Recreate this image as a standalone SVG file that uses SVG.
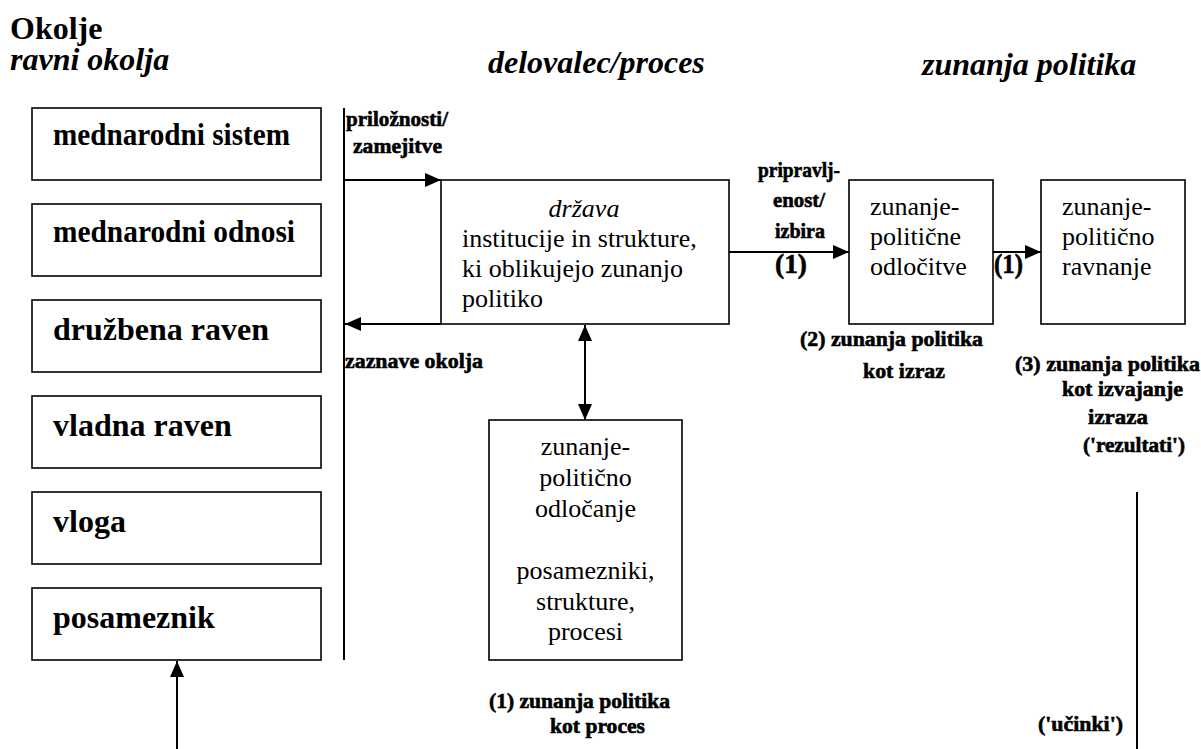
<svg xmlns="http://www.w3.org/2000/svg" xml:lang="sl" width="1201" height="749" viewBox="0 0 1201 749" font-family="Liberation Serif">
  <style>
    .box { fill: #fff; stroke: #000; stroke-width: 1.6; }
    .wire { fill: none; stroke: #000; stroke-width: 2; }
  </style>
  <defs>
    <marker id="arrow" viewBox="0 0 16 14" refX="16" refY="7" markerWidth="16" markerHeight="14" markerUnits="userSpaceOnUse" orient="auto-start-reverse">
      <path d="M0,0 L16,7 L0,14 Z" fill="#000"/>
    </marker>
  </defs>

  <rect width="1201" height="749" fill="#fff"/>

  <!-- column headings -->
  <g id="headings" font-size="32" font-weight="bold" fill="#000">
    <text font-family="Liberation Serif" x="10" y="39">Okolje</text>
    <text font-family="Liberation Serif" font-style="italic" x="10" y="70">ravni okolja</text>
    <text font-family="Liberation Serif" font-style="italic" x="488" y="73">delovalec/proces</text>
    <text font-family="Liberation Serif" font-style="italic" x="922" y="75">zunanja politika</text>
  </g>

  <!-- environment levels -->
  <g id="levels" font-size="32" font-weight="bold" fill="#000">
    <g id="level-mednarodni-sistem">
      <rect class="box" x="32" y="108" width="289" height="72"/>
      <text font-family="Liberation Serif" x="53" y="145" textLength="237" lengthAdjust="spacingAndGlyphs">mednarodni sistem</text>
    </g>
    <g id="level-mednarodni-odnosi">
      <rect class="box" x="32" y="204" width="289" height="72"/>
      <text font-family="Liberation Serif" x="53" y="242" textLength="242" lengthAdjust="spacingAndGlyphs">mednarodni odnosi</text>
    </g>
    <g id="level-druzbena-raven">
      <rect class="box" x="32" y="300" width="289" height="72"/>
      <text font-family="Liberation Serif" x="53" y="340">družbena raven</text>
    </g>
    <g id="level-vladna-raven">
      <rect class="box" x="32" y="396" width="289" height="72"/>
      <text font-family="Liberation Serif" x="53" y="436">vladna raven</text>
    </g>
    <g id="level-vloga">
      <rect class="box" x="32" y="492" width="289" height="72"/>
      <text font-family="Liberation Serif" x="53" y="532">vloga</text>
    </g>
    <g id="level-posameznik">
      <rect class="box" x="32" y="588" width="289" height="72"/>
      <text font-family="Liberation Serif" x="53" y="628">posameznik</text>
    </g>
  </g>

  <!-- actor: the state -->
  <g id="drzava" font-size="26" fill="#000">
    <rect class="box" x="441" y="180" width="288" height="144"/>
    <text font-family="Liberation Serif" x="584" y="217" text-anchor="middle" font-style="italic">država</text>
    <text font-family="Liberation Serif" x="462" y="247">institucije in strukture,</text>
    <text font-family="Liberation Serif" x="462" y="277">ki oblikujejo zunanjo</text>
    <text font-family="Liberation Serif" x="462" y="307">politiko</text>
  </g>

  <!-- decision making -->
  <g id="odlocanje" font-size="26" fill="#000" text-anchor="middle">
    <rect class="box" x="489" y="420" width="193" height="240"/>
    <text font-family="Liberation Serif" x="585.5" y="455">zunanje-</text>
    <text font-family="Liberation Serif" x="585.5" y="486">politično</text>
    <text font-family="Liberation Serif" x="585.5" y="517">odločanje</text>
    <text font-family="Liberation Serif" x="585.5" y="579">posamezniki,</text>
    <text font-family="Liberation Serif" x="585.5" y="610">strukture,</text>
    <text font-family="Liberation Serif" x="585.5" y="640">procesi</text>
  </g>

  <!-- decisions -->
  <g id="odlocitve" font-size="26" fill="#000">
    <rect class="box" x="849" y="180" width="144" height="144"/>
    <text font-family="Liberation Serif" x="870" y="215">zunanje-</text>
    <text font-family="Liberation Serif" x="870" y="245">politične</text>
    <text font-family="Liberation Serif" x="870" y="275">odločitve</text>
  </g>

  <!-- conduct -->
  <g id="ravnanje" font-size="26" fill="#000">
    <rect class="box" x="1041" y="180" width="144" height="144"/>
    <text font-family="Liberation Serif" x="1062" y="215">zunanje-</text>
    <text font-family="Liberation Serif" x="1062" y="245">politično</text>
    <text font-family="Liberation Serif" x="1062" y="275">ravnanje</text>
  </g>

  <!-- connectors -->
  <g id="connectors">
    <line class="wire" x1="344" y1="108" x2="344" y2="660"/>
    <line class="wire" x1="344" y1="180" x2="441" y2="180" marker-end="url(#arrow)"/>
    <line class="wire" x1="441" y1="324" x2="345" y2="324" marker-end="url(#arrow)"/>
    <line class="wire" x1="585" y1="325" x2="585" y2="420" marker-start="url(#arrow)" marker-end="url(#arrow)"/>
    <line class="wire" x1="729" y1="252" x2="849" y2="252" marker-end="url(#arrow)"/>
    <line class="wire" x1="993" y1="252" x2="1041" y2="252" marker-end="url(#arrow)"/>
    <line class="wire" x1="177" y1="749" x2="177" y2="661" marker-end="url(#arrow)"/>
    <line class="wire" x1="1137" y1="492" x2="1137" y2="749"/>
  </g>

  <!-- connector labels -->
  <g id="labels" font-size="22" font-weight="bold" fill="#000" stroke="#000" stroke-width="0.6">
    <text font-family="Liberation Serif" x="346" y="126" textLength="102" lengthAdjust="spacingAndGlyphs">priložnosti/</text>
    <text font-family="Liberation Serif" x="353" y="153" textLength="89" lengthAdjust="spacingAndGlyphs">zamejitve</text>
    <text font-family="Liberation Serif" x="345" y="368" textLength="138" lengthAdjust="spacingAndGlyphs">zaznave okolja</text>
    <text font-family="Liberation Serif" x="758" y="177" textLength="82" lengthAdjust="spacingAndGlyphs">pripravlj-</text>
    <text font-family="Liberation Serif" x="773" y="207" textLength="52" lengthAdjust="spacingAndGlyphs">enost/</text>
    <text font-family="Liberation Serif" x="775" y="238" textLength="50" lengthAdjust="spacingAndGlyphs">izbira</text>
    <text font-family="Liberation Serif" font-size="28" x="775" y="273" textLength="32" lengthAdjust="spacingAndGlyphs">(1)</text>
    <text font-family="Liberation Serif" font-size="28" x="994" y="273" textLength="29" lengthAdjust="spacingAndGlyphs">(1)</text>
    <text font-family="Liberation Serif" x="800" y="346" textLength="183" lengthAdjust="spacingAndGlyphs">(2) zunanja politika</text>
    <text font-family="Liberation Serif" x="863" y="378" textLength="82" lengthAdjust="spacingAndGlyphs">kot izraz</text>
    <text font-family="Liberation Serif" x="1015" y="371" textLength="185" lengthAdjust="spacingAndGlyphs">(3) zunanja politika</text>
    <text font-family="Liberation Serif" x="1062" y="396" textLength="121" lengthAdjust="spacingAndGlyphs">kot izvajanje</text>
    <text font-family="Liberation Serif" x="1088" y="424" textLength="60" lengthAdjust="spacingAndGlyphs">izraza</text>
    <text font-family="Liberation Serif" x="1083" y="452" textLength="102" lengthAdjust="spacingAndGlyphs">('rezultati')</text>
    <text font-family="Liberation Serif" x="489" y="708" textLength="181" lengthAdjust="spacingAndGlyphs">(1) zunanja politika</text>
    <text font-family="Liberation Serif" x="550" y="733" textLength="95" lengthAdjust="spacingAndGlyphs">kot proces</text>
    <text font-family="Liberation Serif" x="1038" y="731" textLength="85" lengthAdjust="spacingAndGlyphs">('učinki')</text>
  </g>
</svg>
